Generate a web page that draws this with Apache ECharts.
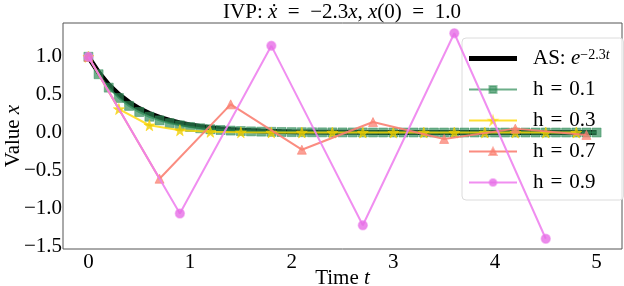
<!DOCTYPE html>
<html><head><meta charset="utf-8">
<script src="https://cdn.jsdelivr.net/npm/echarts@6/dist/echarts.min.js"></script>
<style>html,body{margin:0;padding:0;background:#fff}#c{width:624px;height:286px}</style>
</head><body><div id="c"></div><script>
// time grid of the exact solution and h = 0.1
const tFine = [0,0.1,0.2,0.3,0.4,0.5,0.6,0.7,0.8,0.9,1.0,1.1,1.2,1.3,1.4,1.5,1.6,1.7,1.8,1.9,2.0,2.1,2.2,2.3,2.4,2.5,2.6,2.7,2.8,2.9,3.0,3.1,3.2,3.3,3.4,3.5,3.6,3.7,3.8,3.9,4.0,4.1,4.2,4.3,4.4,4.5,4.6,4.7,4.8,4.9,5.0];
const xAS = [1,0.7945,0.6313,0.5016,0.3985,0.3166,0.2516,0.1999,0.1588,0.1262,0.1003,0.0797,0.0633,0.0503,0.04,0.0317,0.0252,0.02,0.0159,0.0126,0.0101,0.008,0.0063,0.005,0.004,0.0032,0.0025,0.002,0.0016,0.0013,0.001,0.0008,0.0006,0.0005,0.0004,0.0003,0.0003,0.0002,0.0002,0.0001,0.0001,0.0001,0.0001,0.0001,0,0,0,0,0,0,0];
const xH01 = [1,0.77,0.5929,0.4565,0.3515,0.2707,0.2084,0.1605,0.1236,0.0952,0.0733,0.0564,0.0434,0.0334,0.0258,0.0198,0.0153,0.0118,0.0091,0.007,0.0054,0.0041,0.0032,0.0025,0.0019,0.0015,0.0011,0.0009,0.0007,0.0005,0.0004,0.0003,0.0002,0.0002,0.0001,0.0001,0.0001,0.0001,0,0,0,0,0,0,0,0,0,0,0,0,0];
const tH03 = [0,0.3,0.6,0.9,1.2,1.5,1.8,2.1,2.4,2.7,3.0,3.3,3.6,3.9,4.2,4.5,4.8];
const xH03 = [1,0.31,0.0961,0.0298,0.0092,0.0029,0.0009,0.0003,0.0001,0,0,0,0,0,0,0,0];
const tH07 = [0,0.7,1.4,2.1,2.8,3.5,4.2,4.9];
const xH07 = [1,-0.61,0.3721,-0.227,0.1385,-0.0845,0.0515,-0.0314];
const tH09 = [0,0.9,1.8,2.7,3.6,4.5];
const xH09 = [1,-1.07,1.1449,-1.225,1.3108,-1.4026];
const xTicks = [0,1,2,3,4,5];
const yTicks = [-1.5,-1.0,-0.5,0.0,0.5,1.0];
const names = ['AS','h = 0.1','h = 0.3','h = 0.7','h = 0.9'];

const zip = (t, v) => t.map((x, i) => [x, v[i]]);
const F = '"Liberation Serif", "Times New Roman", serif';
const STAR = 'path://M50,0 L61,35 L98,35 L68,57 L79,91 L50,70 L21,91 L32,57 L2,35 L39,35 Z';
const THICK = 'path://M0,0 L0.01,0 L0.01,0.01 Z M0,2 L48,2 L48,7 L0,7 Z M47.99,8.99 L48,8.99 L48,9 Z';

const chart = echarts.init(document.getElementById('c'), null, {renderer: 'canvas'});
const richBase = {
  n: {fontFamily: F, fontSize: 21, color: '#000'},
  i: {fontFamily: F, fontSize: 21, fontStyle: 'italic', color: '#000'},
  s: {fontFamily: F, fontSize: 14, color: '#000', verticalAlign: 'top', lineHeight: 13},
  si: {fontFamily: F, fontSize: 14, fontStyle: 'italic', color: '#000', verticalAlign: 'top', lineHeight: 13}
};
const richTitle = {
  n: {fontFamily: F, fontSize: 21, color: '#000'},
  i: {fontFamily: F, fontSize: 21, fontStyle: 'italic', color: '#000'}
};
chart.setOption({
  animation: false,
  backgroundColor: '#fff',
  graphic: [{
    type: 'text', x: 342, y: 12, z: 10,
    style: {
      text: '{n|IVP: }{i|x\u0307}{n|  =  \u22122.3}{i|x}{n|, }{i|x}{n|(0)  =  1.0}',
      rich: richTitle, align: 'center', verticalAlign: 'middle',
      textAlign: 'center', textVerticalAlign: 'middle', fill: '#000'
    }
  }],
  grid: {left: 63, right: 2, top: 23, bottom: 37, show: true, borderColor: '#555', borderWidth: 1,
    containLabel: false, outerBoundsMode: 'none'},
  xAxis: {
    type: 'value', min: -0.25, max: 5.25,
    axisLine: {show: false}, axisTick: {show: false}, splitLine: {show: false},
    axisLabel: {customValues: xTicks, fontFamily: F, fontSize: 21, color: '#000', margin: 3},
    name: '{n|Time }{i|t}', nameLocation: 'middle', nameGap: 19, nameMoveOverlap: false,
    nameTextStyle: {rich: richTitle}
  },
  yAxis: {
    type: 'value', min: -1.5383, max: 1.4465,
    axisLine: {show: false}, axisTick: {show: false}, splitLine: {show: false},
    axisLabel: {customValues: yTicks, fontFamily: F, fontSize: 21, color: '#000', margin: 1,
      formatter: v => (v < 0 ? '\u2212' : '') + Math.abs(v).toFixed(1)},
    name: '{n|Value }{i|x}', nameLocation: 'middle', nameGap: 39, nameRotate: 90, nameMoveOverlap: false,
    nameTextStyle: {rich: richTitle}
  },
  legend: {
    data: [{name: 'AS', icon: THICK, itemStyle: {color: '#000'}}, 'h = 0.1', 'h = 0.3', 'h = 0.7', 'h = 0.9'],
    orient: 'vertical', left: 462, top: 38, z: 1,
    itemWidth: 48, itemHeight: 9, itemGap: 10, padding: [10, 14, 7, 6],
    backgroundColor: 'rgba(255,255,255,0.8)', borderColor: '#dcdcdc', borderWidth: 1, borderRadius: 4,
    textStyle: {fontFamily: F, fontSize: 21, color: '#000', lineHeight: 20, padding: [0, 0, 0, 11], rich: richBase},
    formatter: name => name === 'AS' ? '{n|AS: }{i|e}{s|\u22122.3}{si|t}' : '{n|' + name.replace(/ = /, '\u2004=\u2004') + '}'
  },
  series: [
    {name: 'AS', type: 'line', data: zip(tFine, xAS), showSymbol: false, symbol: 'none', z: 2,
     lineStyle: {color: '#000', width: 5}, itemStyle: {color: '#000'}},
    {name: 'h = 0.1', type: 'line', data: zip(tFine, xH01), symbol: 'rect', symbolSize: 9, z: 3,
     lineStyle: {color: '#2E8B57', width: 2, opacity: 0.7},
     itemStyle: {color: 'rgba(46,139,87,0.68)', borderColor: 'rgba(46,139,87,0.45)', borderWidth: 1}},
    {name: 'h = 0.3', type: 'line', data: zip(tH03, xH03), symbol: STAR, symbolSize: 11, z: 4,
     lineStyle: {color: '#FFD700', width: 2, opacity: 0.8},
     itemStyle: {color: 'rgba(230,200,0,0.75)', borderColor: 'rgba(255,215,0,0.6)', borderWidth: 1}},
    {name: 'h = 0.7', type: 'line', data: zip(tH07, xH07), symbol: 'triangle', symbolSize: 9, z: 5,
     lineStyle: {color: '#FA8072', width: 2, opacity: 0.9},
     itemStyle: {color: 'rgba(250,128,114,0.75)', borderColor: 'rgba(250,128,114,0.6)', borderWidth: 1}},
    {name: 'h = 0.9', type: 'line', data: zip(tH09, xH09), symbol: 'circle', symbolSize: 9, z: 6,
     lineStyle: {color: '#EE82EE', width: 2, opacity: 0.9},
     itemStyle: {color: 'rgba(230,110,230,0.8)', borderColor: 'rgba(238,130,238,0.5)', borderWidth: 1.5}}
  ]
});
</script></body></html>
